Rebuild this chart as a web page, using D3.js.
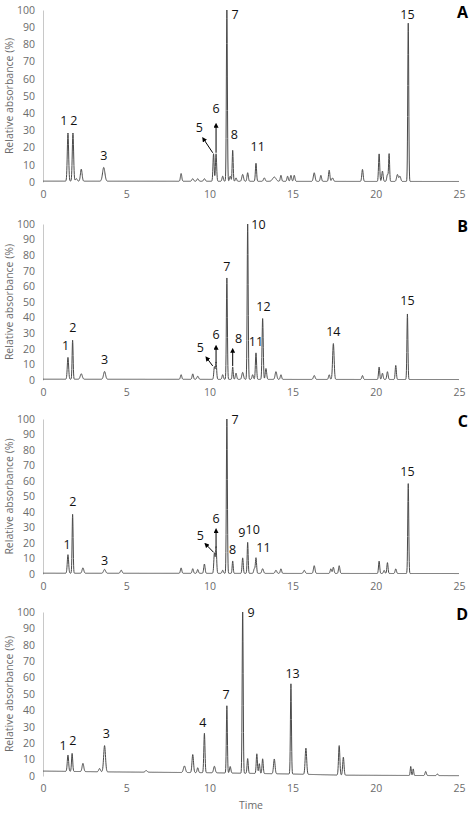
<!DOCTYPE html>
<html><head><meta charset="utf-8">
<script src="https://cdn.jsdelivr.net/npm/d3@7"></script>
<style>
body{margin:0;background:#fff;}
text{font-family:"Open Sans",sans-serif;}
</style></head>
<body><svg id="chart" width="474" height="814"></svg>
<script>
// peaks: [time, height %, half width in min]
var peaksA = [[1.5,28,.04],[1.8,28,.04],[2.0,1.5,.05],[2.3,7,.05],[3.65,8,.07],[8.3,4.5,.04],[9.0,1.5,.05],[9.3,1.5,.05],[9.7,1.5,.05],
  [10.25,16,.035],[10.4,16,.035],[10.8,3,.04],[11.05,100,.03],[11.25,3,.04],[11.4,18,.03],[11.6,2,.04],[12.0,4,.05],[12.3,5,.04],
  [12.8,10.5,.035],[13.3,2,.05],[13.9,2.5,.1],[14.3,3.5,.04],[14.7,3,.04],[14.9,3.5,.04],[15.1,3.5,.04],[16.3,5,.05],[16.7,3.5,.04],
  [17.2,6.5,.04],[17.4,2,.05],[19.2,7,.04],[20.2,16,.035],[20.4,6,.04],[20.7,4,.04],[20.8,16,.03],[21.3,4,.05],[21.45,3,.05],[21.95,92,.03]];
var peaksB = [[1.5,14,.04],[1.78,25,.03],[2.3,3.5,.06],[3.7,5,.06],[8.3,3,.04],[9.0,3.5,.04],[9.3,2,.05],[10.3,8,.035],[10.4,11,.035],
  [10.8,3,.04],[11.05,65,.03],[11.4,8,.03],[11.6,4,.04],[12.0,4.5,.05],[12.3,100,.03],[12.6,3,.04],[12.8,17,.035],[13.2,39,.035],
  [13.4,7,.04],[14.0,5,.05],[14.3,3,.04],[16.3,2.5,.05],[17.2,3,.04],[17.45,23,.045],[19.2,2.5,.04],[20.2,8,.035],[20.4,4,.04],
  [20.7,5,.04],[21.2,9,.035],[21.9,42,.03]];
var peaksC = [[1.5,12,.04],[1.78,38,.03],[2.4,3.5,.05],[3.7,2.5,.06],[4.7,2,.05],[8.3,3.5,.04],[9.0,3,.04],[9.3,2.5,.04],[9.7,6,.04],
  [10.3,13,.035],[10.4,17,.035],[10.8,2,.04],[11.05,100,.03],[11.4,8,.03],[12.0,10,.035],[12.3,20,.03],[12.7,3,.04],[12.8,10,.035],
  [13.2,3,.05],[14.0,2,.05],[14.3,3,.04],[15.7,2,.05],[16.3,5,.045],[17.3,3,.04],[17.45,4,.04],[17.8,5,.04],[20.2,8,.035],[20.5,2,.04],
  [20.7,7,.035],[21.2,3,.04],[21.95,58,.03]];
var peaksD = [[1.5,10,.04],[1.75,11,.035],[2.4,5,.05],[3.4,2,.05],[3.7,16,.055],[6.2,1,.06],[8.5,4,.06],[9.0,11,.045],[9.3,3,.04],
  [9.7,24,.035],[10.3,4,.05],[11.05,41,.03],[11.25,4,.04],[12.0,100,.03],[12.3,9,.035],[12.85,12,.035],[13.0,6,.035],[13.2,9,.035],
  [13.9,9,.045],[14.9,55,.03],[15.8,16,.045],[17.8,18,.04],[18.05,11,.04],[22.1,5.5,.03],[22.25,4,.03],[23.0,2.5,.04],[23.7,1,.04]];
// baseline drift: [time, %]
var baseA = [[0,0.5],[25,0.3]];
var baseB = [[0,0.5],[25,0.3]];
var baseC = [[0,0.5],[25,0.3]];
var baseD = [[0,3],[4,2.5],[10,2],[15,1.2],[18,0.5],[25,0.2]];
// labels: [text, time, %]; arrows: [x1,y1,x2,y2]
var labelsA = [["1",1.25,33],["2",1.85,33],["3",3.65,13],["5",9.4,29],["6",10.4,40],["7",11.55,95],["8",11.5,25],["11",12.9,18],["15",21.9,95]];
var labelsB = [["1",1.35,19],["2",1.8,31],["3",3.7,10],["5",9.45,18],["6",10.4,26],["7",11.05,70],["8",11.75,24],["10",12.95,97],["11",12.8,22],["12",13.25,44],["14",17.45,28],["15",21.9,48]];
var labelsC = [["1",1.45,16],["2",1.8,44],["3",3.7,6],["5",9.45,22],["6",10.4,33],["7",11.55,97],["8",11.4,13],["9",11.95,24],["10",12.6,26],["11",13.25,14],["15",21.9,63]];
var labelsD = [["1",1.2,16],["2",1.8,19],["3",3.8,23],["4",9.6,30],["7",11.0,47],["9",12.5,97],["13",15.0,60]];
var arrowsA = [[10.2,17,9.65,25],[10.4,17,10.4,33]];
var arrowsB = [[10.2,9,9.85,14],[10.4,11,10.4,21],[11.4,9,11.4,19]];
var arrowsC = [[10.25,14,9.8,19],[10.4,17,10.4,28]];
var arrowsD = [];
var xTicks = [0,5,10,15,20,25];
var yTicks = [0,10,20,30,40,50,60,70,80,90,100];

var panels = [
  {name:"A", peaks:peaksA, base:baseA, labels:labelsA, arrows:arrowsA, top:10, bottom:182},
  {name:"B", peaks:peaksB, base:baseB, labels:labelsB, arrows:arrowsB, top:224, bottom:380},
  {name:"C", peaks:peaksC, base:baseC, labels:labelsC, arrows:arrowsC, top:419, bottom:574},
  {name:"D", peaks:peaksD, base:baseD, labels:labelsD, arrows:arrowsD, top:612, bottom:776}
];

var svg = d3.select("#chart");
var x = d3.scaleLinear().domain([0,25]).range([43,459]);
var defs = svg.append("defs");
defs.append("marker").attr("id","arr").attr("viewBox","0 0 10 10").attr("refX",5).attr("refY",5)
  .attr("markerWidth",5).attr("markerHeight",5).attr("orient","auto")
  .append("path").attr("d","M0,0L10,5L0,10z").attr("fill","#000");

var grid = d3.range(0,25.001,0.01);

panels.forEach(function(p){
  var y = d3.scaleLinear().domain([0,100]).range([p.bottom,p.top]);
  var g = svg.append("g");
  var baseFn = d3.scaleLinear().domain(p.base.map(function(d){return d[0];})).range(p.base.map(function(d){return d[1];}));
  var trace = grid.map(function(t){
    var v = baseFn(t);
    p.peaks.forEach(function(k){ var z=(t-k[0])/k[2]; v += k[1]*Math.exp(-0.5*z*z); });
    return [t, Math.min(v,100)];
  });

  var ax = g.append("g").attr("transform","translate(43,0)")
    .call(d3.axisLeft(y).tickValues(yTicks).tickSize(0).tickPadding(8));
  ax.select(".domain").attr("stroke","#c8c8c8");
  ax.selectAll("text").attr("fill","#6b6b6b").style("font-size","10.5px");

  var bx = g.append("g").attr("transform","translate(0,"+p.bottom+")")
    .call(d3.axisBottom(x).tickValues(xTicks).tickSize(0).tickPadding(9));
  bx.select(".domain").remove();
  bx.selectAll("text").attr("fill","#6b6b6b").style("font-size","10.5px");

  g.append("text").attr("transform","translate(13,"+((p.top+p.bottom)/2)+") rotate(-90)")
    .attr("text-anchor","middle").attr("fill","#6b6b6b").style("font-size","10.5px").text("Relative absorbance (%)");

  g.append("path").datum(trace).attr("fill","none").attr("stroke","#4a4a4a").attr("stroke-width",1)
    .attr("d", d3.line().x(function(d){return x(d[0]);}).y(function(d){return y(d[1]);}));

  g.selectAll(".lab").data(p.labels).enter().append("text")
    .attr("x",function(d){return x(d[1]);}).attr("y",function(d){return y(d[2]);})
    .attr("text-anchor","middle").style("font-size","12.5px").attr("fill","#111").text(function(d){return d[0];});

  g.selectAll(".arw").data(p.arrows).enter().append("line")
    .attr("x1",function(d){return x(d[0]);}).attr("y1",function(d){return y(d[1]);})
    .attr("x2",function(d){return x(d[2]);}).attr("y2",function(d){return y(d[3]);})
    .attr("stroke","#000").attr("stroke-width",1).attr("marker-end","url(#arr)");

  g.append("text").attr("x",468).attr("y",p.top+8).attr("text-anchor","end")
    .style("font-size","16px").style("font-weight","bold").text(p.name);
});

svg.append("text").attr("x",x(12.5)).attr("y",809).attr("text-anchor","middle")
  .attr("fill","#6b6b6b").style("font-size","10.5px").text("Time");
</script></body></html>
